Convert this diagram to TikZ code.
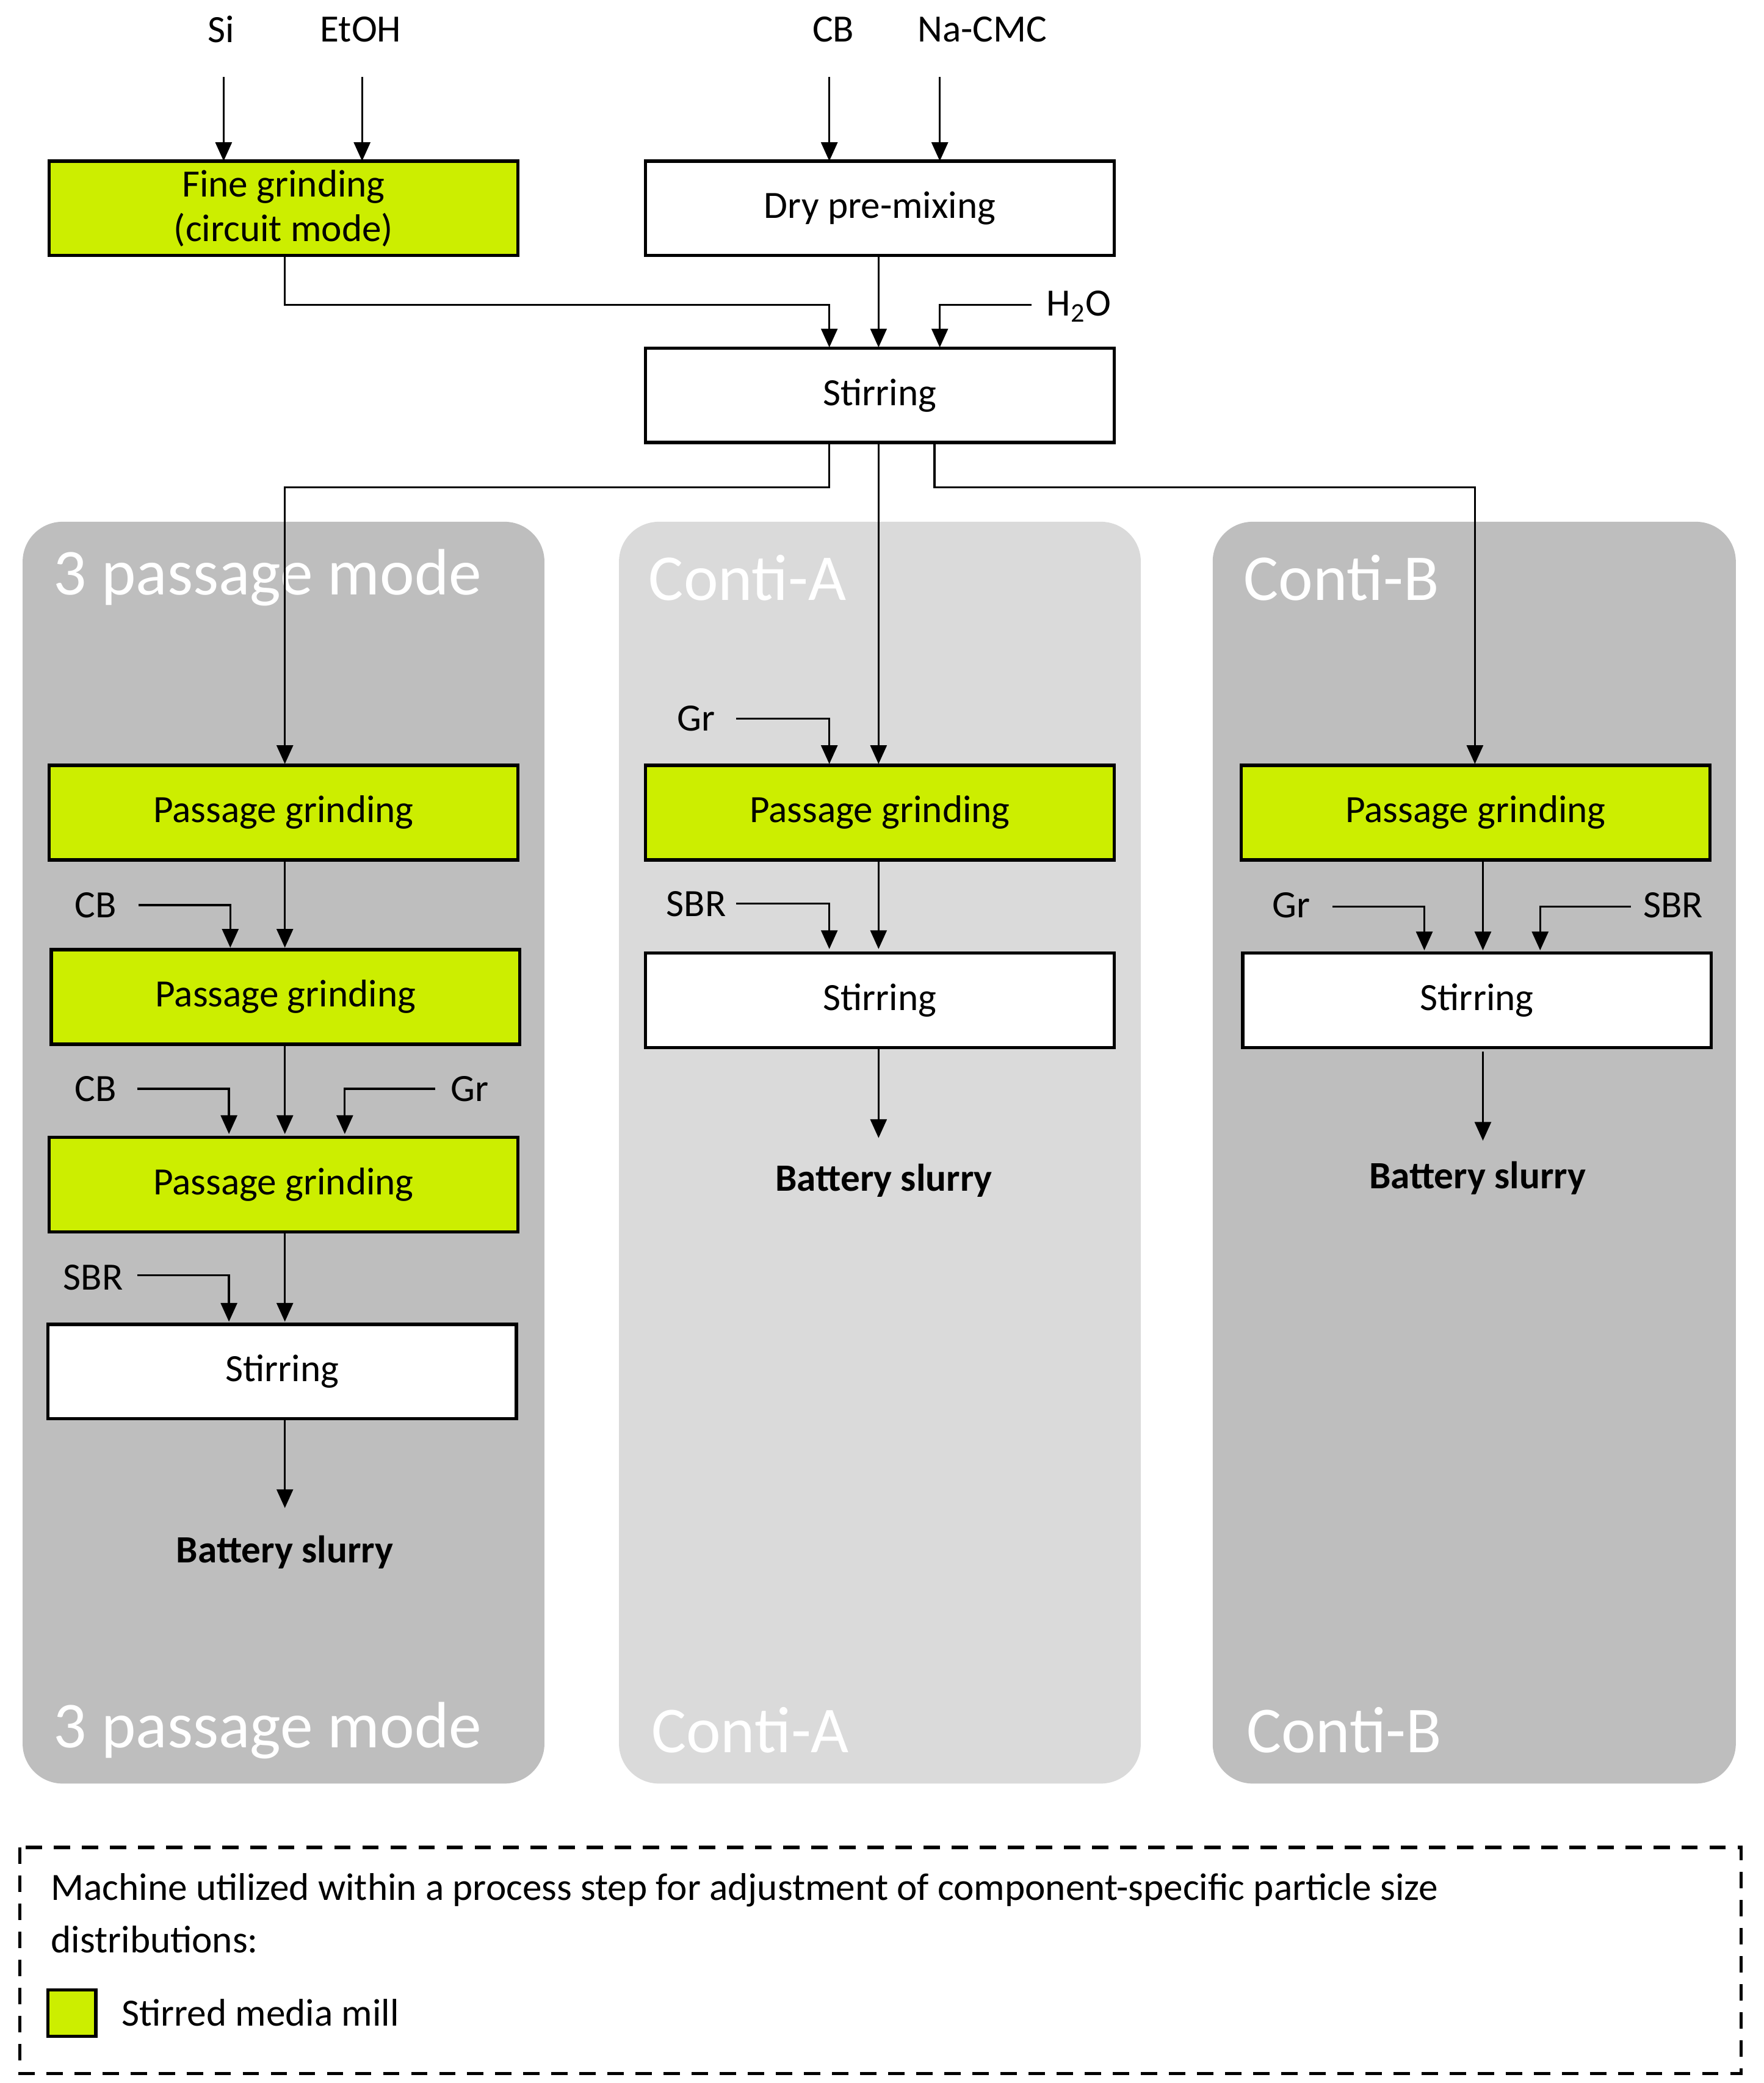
\documentclass[tikz,border=0pt]{standalone}
\usepackage{fontspec}
\setmainfont{Carlito}
\usetikzlibrary{arrows.meta}
\definecolor{lime}{HTML}{CCEE00}
\definecolor{pdark}{HTML}{BEBEBE}
\definecolor{plight}{HTML}{DADADA}
\begin{document}
\begin{tikzpicture}[x=0.02cm,y=-0.02cm,
  box/.style={draw=black,line width=1.4pt,minimum width=#1*0.02cm,minimum height=71*0.02cm,inner sep=0pt,align=center,font=\fontsize{16.5}{19}\selectfont},
  box/.default=352,
  mill/.style={box=#1,fill=lime},
  mill/.default=352,
  plain/.style={box=#1,fill=white},
  plain/.default=352,
  lab/.style={font=\fontsize{16.5}{19}\selectfont,inner sep=0pt},
  slurry/.style={font=\fontsize{16.5}{19}\selectfont\bfseries,inner sep=0pt},
  ttl/.style={font=\fontsize{28}{32}\selectfont,text=white,anchor=west,inner sep=0pt},
  panel/.style={rounded corners=0.6cm,draw=none},
  ar/.style={-{Triangle[length=8pt,width=7pt]},line width=0.85pt},
  ln/.style={line width=0.85pt}]
\useasboundingbox (0,0) rectangle (1325,1565);
% panels
\fill[panel,pdark] (17,392) rectangle (409,1340);
\fill[panel,plight] (465,392) rectangle (857,1340);
\fill[panel,pdark] (911,392) rectangle (1304,1340);
\node[ttl] (t1) at (40,434) {3 passage mode};
\node[ttl] (t2) at (40,1300) {3 passage mode};
\node[ttl] (t3) at (487,434) {Conti-A};
\node[ttl] (t4) at (489,1300) {Conti-A};
\node[ttl] (t5) at (934,434) {Conti-B};
\node[ttl] (t6) at (936,1300) {Conti-B};
% top
\node[lab] (si) at (166,22) {Si};
\node[lab] (etoh) at (271,22) {EtOH};
\node[lab] (cb0) at (626,22) {CB};
\node[lab] (cmc) at (738,22) {Na-CMC};
\node[mill] (fg) at (213,156.5) {Fine grinding\\(circuit mode)};
\node[plain] (dp) at (661,156.5) {Dry pre-mixing};
\node[plain] (st0) at (661,297) {Stirring};
\node[lab,anchor=west] (h2o) at (786,230) {H\textsubscript{2}O};
\draw[ar] (168,58) -- (168,121);
\draw[ar] (272,58) -- (272,121);
\draw[ar] (623,58) -- (623,121);
\draw[ar] (706,58) -- (706,121);
\draw[ar] (214,192) -- (214,229) -- (623,229) -- (623,261);
\draw[ar] (660,192) -- (660,261);
\draw[ar] (775,229) -- (706,229) -- (706,261);
\draw[ar] (623,333) -- (623,366) -- (214,366) -- (214,574);
\draw[ar] (660,333) -- (660,574);
\draw[ar] (702,333) -- (702,366) -- (1108,366) -- (1108,574);
% left column
\node[mill] (a1) at (213,610.5) {Passage grinding};
\node[mill] (a2) at (214.5,749) {Passage grinding};
\node[mill] (a3) at (213,890) {Passage grinding};
\node[plain] (a4) at (212,1030.5) {Stirring};
\node[slurry] (as) at (214,1166) {Battery slurry};
\node[lab] (acb1) at (72,680) {CB};
\node[lab] (acb2) at (72,818) {CB};
\node[lab] (agr) at (353,818) {Gr};
\node[lab] (asbr) at (70,960) {SBR};
\draw[ar] (104,680) -- (173,680) -- (173,712);
\draw[ar] (214,646) -- (214,712);
\draw[ar] (103,818) -- (172,818) -- (172,852);
\draw[ar] (327,818) -- (259,818) -- (259,852);
\draw[ar] (214,785) -- (214,852);
\draw[ar] (103,958) -- (172,958) -- (172,993);
\draw[ar] (214,926) -- (214,993);
\draw[ar] (214,1066) -- (214,1133);
% middle column
\node[lab] (bgr) at (523,540) {Gr};
\node[mill] (b1) at (661,610.5) {Passage grinding};
\node[lab] (bsbr) at (523,679) {SBR};
\node[plain] (b2) at (661,751.5) {Stirring};
\node[slurry] (bs) at (664,887) {Battery slurry};
\draw[ar] (553,540) -- (623,540) -- (623,574);
\draw[ar] (553,679) -- (623,679) -- (623,713);
\draw[ar] (660,646) -- (660,713);
\draw[ar] (660,787) -- (660,855);
% right column
\node[mill] (c1) at (1108.5,610.5) {Passage grinding};
\node[lab] (cgr) at (970,680) {Gr};
\node[lab] (csbr) at (1257,680) {SBR};
\node[plain] (c2) at (1109.5,751.5) {Stirring};
\node[slurry] (cs) at (1110,885) {Battery slurry};
\draw[ar] (1001,681) -- (1070,681) -- (1070,714);
\draw[ar] (1225,681) -- (1157,681) -- (1157,714);
\draw[ar] (1114,646) -- (1114,714);
\draw[ar] (1114,790) -- (1114,857);
% legend
\draw[line width=1.4pt,dash pattern=on 7pt off 5pt] (15,1388) rectangle (1308,1558);
\node[lab,anchor=west] (l1) at (38,1420) {Machine utilized within a process step for adjustment of component-specific particle size};
\node[lab,anchor=west] (l2) at (38,1457) {distributions:};
\draw[fill=lime,line width=1.4pt] (36,1495) rectangle (72,1530);
\node[lab,anchor=west] (l3) at (91,1512) {Stirred media mill};
\end{tikzpicture}
\end{document}
